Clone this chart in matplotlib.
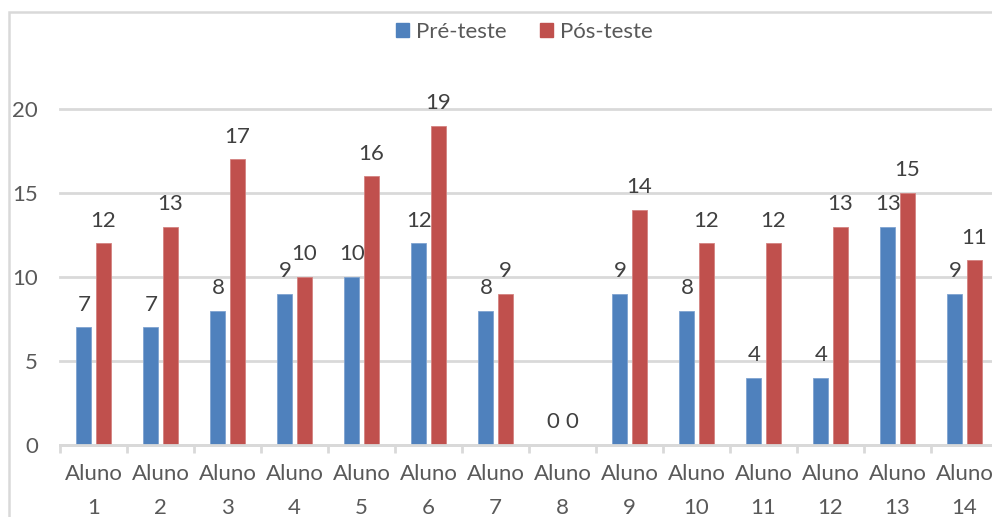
import matplotlib
matplotlib.use("Agg")
import matplotlib.pyplot as plt
from matplotlib.patches import Rectangle
import numpy as np

plt.rcParams['font.family'] = ['Lato', 'DejaVu Sans']

categories = [f"Aluno\n{i}" for i in range(1, 15)]
pre_teste = [7, 7, 8, 9, 10, 12, 8, 0, 9, 8, 4, 4, 13, 9]
pos_teste = [12, 13, 17, 10, 16, 19, 9, 0, 14, 12, 12, 13, 15, 11]
series_names = ["Pré-teste", "Pós-teste"]
y_ticks = [0, 5, 10, 15, 20]

blue = "#4F81BD"
red = "#C0504D"
grid_c = "#D9D9D9"
tick_c = "#595959"
label_c = "#404040"
fs = 16

W, H = 992, 517
fig = plt.figure(figsize=(W / 100, H / 100), dpi=100)
ax = fig.add_axes([60 / W, (H - 445) / H, 938 / W, 336 / H])

x = np.arange(len(categories))
bw = 0.224
off = 0.142
b1 = ax.bar(x - off, pre_teste, bw, color=blue, edgecolor="#7FA3D0", linewidth=0.6, zorder=3)
b2 = ax.bar(x + off, pos_teste, bw, color=red, edgecolor="#D48280", linewidth=0.6, zorder=3)

for bars, vals in ((b1, pre_teste), (b2, pos_teste)):
    for rect, v in zip(bars, vals):
        ax.annotate(str(v), (rect.get_x() + rect.get_width() / 2, v),
                    xytext=(0, 12), textcoords="offset points",
                    ha="center", va="baseline", fontsize=fs, color=label_c,
                    annotation_clip=False)

ax.set_xlim(-0.5, len(categories) - 0.5)
ax.set_ylim(0, 20)
ax.set_yticks(y_ticks)
ax.set_yticklabels([str(t) for t in y_ticks])
ax.set_xticks(x)
ax.set_xticklabels(categories, linespacing=1.85)
ax.set_xticks(np.arange(-0.5, len(categories), 1.0), minor=True)

for s in ax.spines.values():
    s.set_visible(False)
ax.spines['bottom'].set_visible(True)
ax.spines['bottom'].set_color(grid_c)
ax.spines['bottom'].set_linewidth(2)
ax.spines['bottom'].set_zorder(4)

ax.yaxis.grid(True, color=grid_c, linewidth=2, zorder=0)
ax.set_axisbelow(True)
for gl in ax.yaxis.get_gridlines():
    gl.set_clip_on(False)

ax.tick_params(axis='y', length=0, pad=16, labelsize=fs, labelcolor=tick_c)
ax.tick_params(axis='x', which='major', length=0, pad=14, labelsize=fs, labelcolor=tick_c)
ax.tick_params(axis='x', which='minor', length=6, width=2, color=grid_c)

handles = [Rectangle((0, 0), 1, 1, color=blue), Rectangle((0, 0), 1, 1, color=red)]
fig.legend(handles, series_names, loc="center", bbox_to_anchor=(524 / W, 1 - 32 / H),
           ncol=2, frameon=False, fontsize=fs, handlelength=0.6, handleheight=0.6,
           handletextpad=0.3, columnspacing=1.5, labelcolor=tick_c)

# outer chart frame (left and top edges visible)
fig.patches.append(Rectangle((9 / W, -0.2), 1.2, (H - 12) / H + 0.2,
                             transform=fig.transFigure, fill=False,
                             edgecolor=grid_c, linewidth=1.8, zorder=0))

fig.savefig("out.png", dpi=100)
